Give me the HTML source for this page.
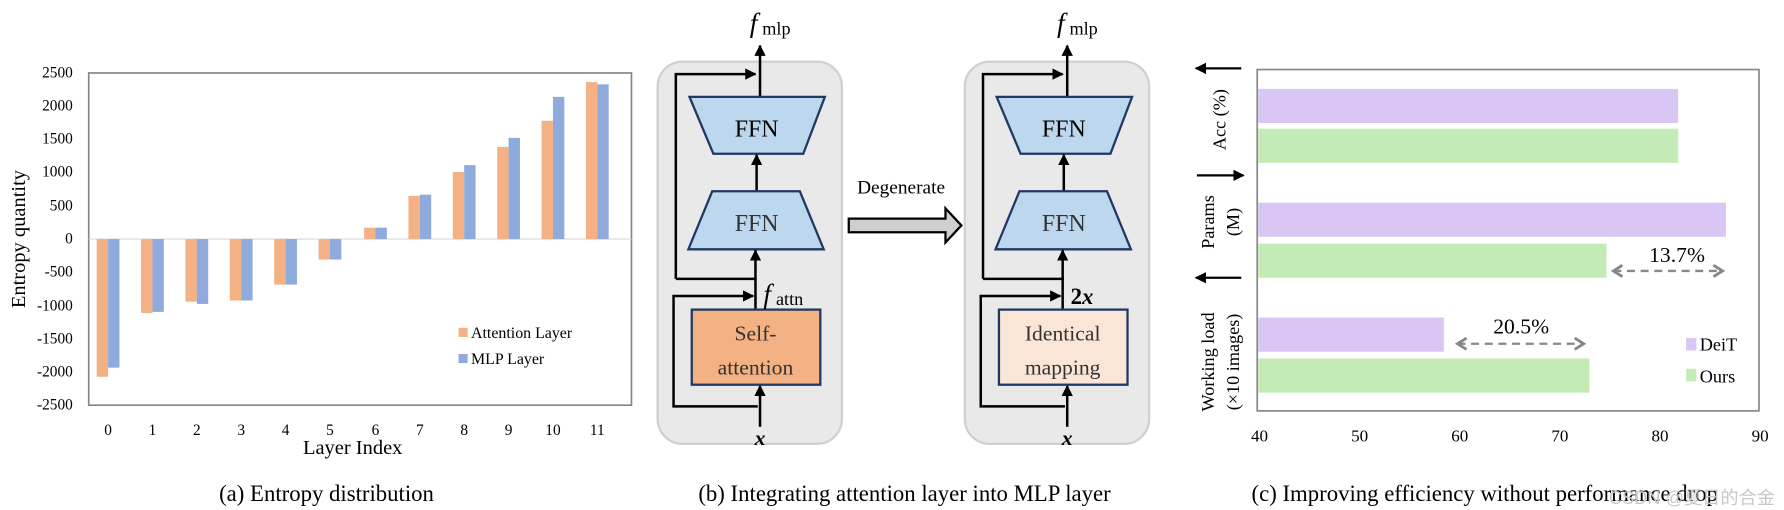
<!DOCTYPE html>
<html><head><meta charset="utf-8"><style>html,body{margin:0;padding:0;background:#fff}svg{display:block}</style></head><body>
<svg width="1784" height="510" viewBox="0 0 1568 448" xmlns="http://www.w3.org/2000/svg" font-family="Liberation Serif, serif">
<defs>
<marker id="ah" markerWidth="10" markerHeight="10" refX="9" refY="5" orient="auto" markerUnits="userSpaceOnUse"><path d="M0,0 L10,5 L0,10 z" fill="#000"/></marker>
<marker id="gh" markerWidth="12" markerHeight="12" refX="10" refY="6" orient="auto-start-reverse" markerUnits="userSpaceOnUse"><path d="M2,1 L10,6 L2,11" fill="none" stroke="#888" stroke-width="2.5"/></marker>
</defs>
<!-- Chart A -->
<rect x="78" y="64" width="477" height="292" fill="#fff" stroke="#888" stroke-width="1.5"/>
<line x1="78" y1="210" x2="555" y2="210" stroke="#d9d9d9" stroke-width="1"/>
<g font-size="13.5" text-anchor="end" fill="#000">
<text x="64" y="68">2500</text><text x="64" y="97">2000</text><text x="64" y="126">1500</text><text x="64" y="155">1000</text><text x="64" y="185">500</text><text x="64" y="214">0</text><text x="64" y="243">-500</text><text x="64" y="273">-1000</text><text x="64" y="302">-1500</text><text x="64" y="331">-2000</text><text x="64" y="360">-2500</text>
</g>
<g font-size="13.5" text-anchor="middle">
<text x="95" y="382">0</text><text x="134" y="382">1</text><text x="173" y="382">2</text><text x="212" y="382">3</text><text x="251" y="382">4</text><text x="290" y="382">5</text><text x="330" y="382">6</text><text x="369" y="382">7</text><text x="408" y="382">8</text><text x="447" y="382">9</text><text x="486" y="382">10</text><text x="525" y="382">11</text>
</g>
<text x="310" y="399" font-size="18" text-anchor="middle">Layer Index</text>
<text transform="translate(22,210) rotate(-90)" font-size="18" text-anchor="middle">Entropy quantity</text>
<rect x="403" y="288" width="8" height="8" fill="#f4b183"/><text x="414" y="297" font-size="14">Attention Layer</text>
<rect x="403" y="311" width="8" height="8" fill="#8faadc"/><text x="414" y="320" font-size="14">MLP Layer</text>
<text x="287" y="440" font-size="20" text-anchor="middle">(a) Entropy distribution</text>

<!-- Chart B: box1 -->
<g id="blk">
<rect x="578" y="54" width="162" height="336" rx="22" fill="#e9e9e9" stroke="#d0d0d0" stroke-width="2"/>
<polyline points="594,245 594,65 664,65" fill="none" stroke="#000" stroke-width="2.2" marker-end="url(#ah)"/>
<line x1="594" y1="245" x2="665" y2="245" stroke="#000" stroke-width="2.2"/>
<line x1="668" y1="85" x2="668" y2="40" stroke="#000" stroke-width="2.2" marker-end="url(#ah)"/>
<polygon points="606,85 725,85 706,135 627,135" fill="#bdd7ee" stroke="#1f3864" stroke-width="2"/>
<text x="665" y="120" font-size="21" text-anchor="middle">FFN</text>
<line x1="665" y1="168" x2="665" y2="136" stroke="#000" stroke-width="2.2" marker-end="url(#ah)"/>
<polygon points="626,168 703,168 724,219 605,219" fill="#bdd7ee" stroke="#1f3864" stroke-width="2"/>
<text x="665" y="203" font-size="21" text-anchor="middle" fill="#333">FFN</text>
<line x1="664" y1="272" x2="664" y2="220" stroke="#000" stroke-width="2.2" marker-end="url(#ah)"/>
<polyline points="666,357 592,357 592,260 662,260" fill="none" stroke="#000" stroke-width="2.2" marker-end="url(#ah)"/>
<line x1="668" y1="375" x2="668" y2="339" stroke="#000" stroke-width="2.2" marker-end="url(#ah)"/>
<text x="668" y="391" font-size="19" font-weight="bold" font-style="italic" text-anchor="middle">x</text>
</g>
<rect x="608" y="272" width="113" height="66" fill="#f4b183" stroke="#1f3864" stroke-width="2"/>
<text x="664" y="299" font-size="19" text-anchor="middle" fill="#333">Self-</text>
<text x="664" y="329" font-size="19" text-anchor="middle" fill="#333">attention</text>
<text x="659" y="28" font-size="24" font-style="italic">f</text><text x="670" y="30" font-size="16">mlp</text>
<text x="671" y="266" font-size="24" font-style="italic">f</text><text x="682" y="268" font-size="16">attn</text>

<use href="#blk" x="270" y="0"/>
<rect x="878" y="272" width="113" height="66" fill="#fbe5d6" stroke="#1f3864" stroke-width="2"/>
<text x="934" y="299" font-size="19" text-anchor="middle" fill="#333">Identical</text>
<text x="934" y="329" font-size="19" text-anchor="middle" fill="#333">mapping</text>
<text x="929" y="28" font-size="24" font-style="italic">f</text><text x="940" y="30" font-size="16">mlp</text>
<text x="941" y="267" font-size="20" font-weight="bold">2<tspan font-style="italic">x</tspan></text>

<text x="792" y="170" font-size="17" text-anchor="middle">Degenerate</text>
<polygon points="746,192 831,192 831,183 845,198 831,213 831,204 746,204" fill="#d0cece" stroke="#000" stroke-width="2"/>
<text x="795" y="440" font-size="20" text-anchor="middle">(b) Integrating attention layer into MLP layer</text>

<!-- Chart C -->
<rect x="1105" y="61" width="441" height="300" fill="#fff" stroke="#888" stroke-width="1.5"/>
<g>
<rect x="1106" y="78" width="369" height="30" fill="#d9c6f5"/>
<rect x="1106" y="113" width="369" height="30" fill="#c3ebb5"/>
<rect x="1106" y="178" width="411" height="30" fill="#d9c6f5"/>
<rect x="1106" y="214" width="306" height="30" fill="#c3ebb5"/>
<rect x="1106" y="279" width="163" height="30" fill="#d9c6f5"/>
<rect x="1106" y="315" width="291" height="30" fill="#c3ebb5"/>
</g>
<line x1="1418" y1="238" x2="1514" y2="238" stroke="#888" stroke-width="2" stroke-dasharray="7,5" marker-end="url(#gh)" marker-start="url(#gh)"/>
<text x="1474" y="230" font-size="19" text-anchor="middle">13.7%</text>
<line x1="1281" y1="302" x2="1392" y2="302" stroke="#888" stroke-width="2" stroke-dasharray="7,5" marker-end="url(#gh)" marker-start="url(#gh)"/>
<text x="1337" y="293" font-size="19" text-anchor="middle">20.5%</text>
<rect x="1482" y="297" width="9" height="11" fill="#d9c6f5"/><text x="1494" y="308" font-size="16">DeiT</text>
<rect x="1482" y="324" width="9" height="11" fill="#c3ebb5"/><text x="1494" y="336" font-size="16">Ours</text>
<g font-size="15" text-anchor="middle">
<text x="1107" y="388">40</text><text x="1195" y="388">50</text><text x="1283" y="388">60</text><text x="1371" y="388">70</text><text x="1459" y="388">80</text><text x="1547" y="388">90</text>
</g>
<g stroke="#000" stroke-width="2" fill="none">
<line x1="1091" y1="60" x2="1051" y2="60" marker-end="url(#ah)"/>
<line x1="1052" y1="154" x2="1093" y2="154" marker-end="url(#ah)"/>
<line x1="1091" y1="244" x2="1051" y2="244" marker-end="url(#ah)"/>
</g>
<text transform="translate(1077,105) rotate(-90)" font-size="16" text-anchor="middle">Acc (%)</text>
<text transform="translate(1067,195) rotate(-90)" font-size="16" text-anchor="middle">Params</text>
<text transform="translate(1089,195) rotate(-90)" font-size="16" text-anchor="middle">(M)</text>
<text transform="translate(1067,318) rotate(-90)" font-size="16" text-anchor="middle">Working load</text>
<text transform="translate(1089,318) rotate(-90)" font-size="16" text-anchor="middle">(×10 images)</text>
<text x="1305" y="440" font-size="20" text-anchor="middle">(c) Improving efficiency without performance drop</text>
<text x="1560" y="443" font-size="16" text-anchor="end" fill="#c8c8c8" font-family="Liberation Sans, Noto Sans CJK SC, sans-serif">CSDN @夏日的合金</text>

<!-- bars chart A -->
<g>
<rect x="85" y="210" width="10" height="121" fill="#f4b183"/><rect x="95" y="210" width="10" height="113" fill="#8faadc"/>
<rect x="124" y="210" width="10" height="65" fill="#f4b183"/><rect x="134" y="210" width="10" height="64" fill="#8faadc"/>
<rect x="163" y="210" width="10" height="55" fill="#f4b183"/><rect x="173" y="210" width="10" height="57" fill="#8faadc"/>
<rect x="202" y="210" width="10" height="54" fill="#f4b183"/><rect x="212" y="210" width="10" height="54" fill="#8faadc"/>
<rect x="241" y="210" width="10" height="40" fill="#f4b183"/><rect x="251" y="210" width="10" height="40" fill="#8faadc"/>
<rect x="280" y="210" width="10" height="18" fill="#f4b183"/><rect x="290" y="210" width="10" height="18" fill="#8faadc"/>
<rect x="320" y="200" width="10" height="10" fill="#f4b183"/><rect x="330" y="200" width="10" height="10" fill="#8faadc"/>
<rect x="359" y="172" width="10" height="38" fill="#f4b183"/><rect x="369" y="171" width="10" height="39" fill="#8faadc"/>
<rect x="398" y="151" width="10" height="59" fill="#f4b183"/><rect x="408" y="145" width="10" height="65" fill="#8faadc"/>
<rect x="437" y="129" width="10" height="81" fill="#f4b183"/><rect x="447" y="121" width="10" height="89" fill="#8faadc"/>
<rect x="476" y="106" width="10" height="104" fill="#f4b183"/><rect x="486" y="85" width="10" height="125" fill="#8faadc"/>
<rect x="515" y="72" width="10" height="138" fill="#f4b183"/><rect x="525" y="74" width="10" height="136" fill="#8faadc"/>
</g>
</svg>
</body></html>
